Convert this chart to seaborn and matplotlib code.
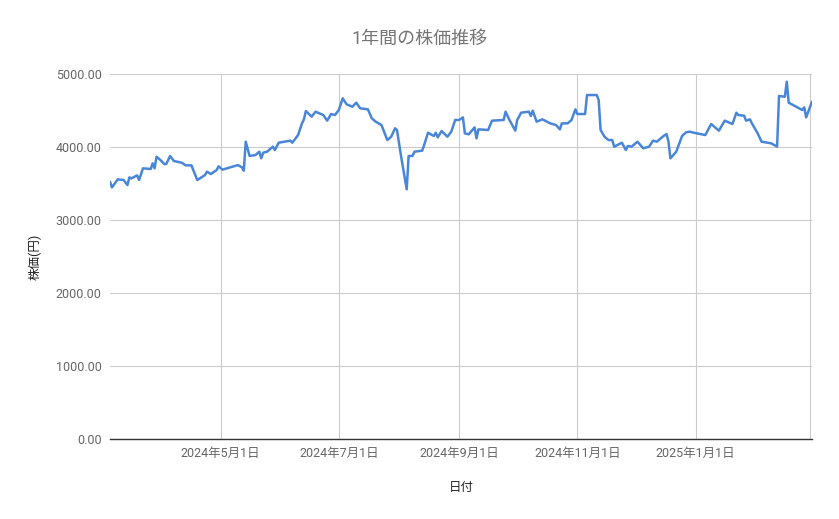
import pandas as pd
import seaborn as sns
import matplotlib.pyplot as plt
from matplotlib.ticker import FuncFormatter

# 日付と終値（チャートから読み取り）
dates = [
    "2024-03-05", "2024-03-06", "2024-03-09", "2024-03-12", "2024-03-14", "2024-03-15",
    "2024-03-16", "2024-03-19", "2024-03-20", "2024-03-22", "2024-03-26", "2024-03-27",
    "2024-03-28", "2024-03-29", "2024-03-31", "2024-04-02", "2024-04-03", "2024-04-05",
    "2024-04-07", "2024-04-11", "2024-04-13", "2024-04-16", "2024-04-18", "2024-04-19",
    "2024-04-23", "2024-04-24", "2024-04-26", "2024-04-29", "2024-04-30", "2024-05-02",
    "2024-05-07", "2024-05-10", "2024-05-12", "2024-05-13", "2024-05-14", "2024-05-16",
    "2024-05-19", "2024-05-21", "2024-05-22", "2024-05-23", "2024-05-25", "2024-05-28",
    "2024-05-29", "2024-05-31", "2024-06-06", "2024-06-07", "2024-06-10", "2024-06-12",
    "2024-06-13", "2024-06-14", "2024-06-17", "2024-06-19", "2024-06-23", "2024-06-25",
    "2024-06-27", "2024-06-29", "2024-07-01", "2024-07-03", "2024-07-05", "2024-07-08",
    "2024-07-10", "2024-07-12", "2024-07-16", "2024-07-18", "2024-07-20", "2024-07-23",
    "2024-07-24", "2024-07-26", "2024-07-28", "2024-07-30", "2024-07-31", "2024-08-02",
    "2024-08-05", "2024-08-06", "2024-08-08", "2024-08-09", "2024-08-13", "2024-08-14",
    "2024-08-16", "2024-08-19", "2024-08-20", "2024-08-21", "2024-08-23", "2024-08-26",
    "2024-08-28", "2024-08-30", "2024-09-01", "2024-09-03", "2024-09-04", "2024-09-06",
    "2024-09-09", "2024-09-10", "2024-09-11", "2024-09-16", "2024-09-18", "2024-09-24",
    "2024-09-25", "2024-09-27", "2024-09-30", "2024-10-01", "2024-10-03", "2024-10-07",
    "2024-10-08", "2024-10-09", "2024-10-11", "2024-10-14", "2024-10-18", "2024-10-21",
    "2024-10-23", "2024-10-24", "2024-10-27", "2024-10-29", "2024-10-31", "2024-11-01",
    "2024-11-05", "2024-11-06", "2024-11-11", "2024-11-12", "2024-11-13", "2024-11-15",
    "2024-11-17", "2024-11-19", "2024-11-20", "2024-11-24", "2024-11-26", "2024-11-27",
    "2024-11-29", "2024-12-02", "2024-12-05", "2024-12-08", "2024-12-10", "2024-12-12",
    "2024-12-15", "2024-12-17", "2024-12-18", "2024-12-19", "2024-12-22", "2024-12-25",
    "2024-12-27", "2024-12-29", "2024-12-31", "2025-01-06", "2025-01-09", "2025-01-13",
    "2025-01-16", "2025-01-20", "2025-01-22", "2025-01-23", "2025-01-26", "2025-01-27",
    "2025-01-29", "2025-01-30", "2025-02-02", "2025-02-04", "2025-02-09", "2025-02-12",
    "2025-02-13", "2025-02-16", "2025-02-17", "2025-02-18", "2025-02-25", "2025-02-26",
    "2025-02-27", "2025-03-02",
]
prices = [
    3525, 3447, 3557, 3548, 3479, 3584,
    3570, 3611, 3548, 3708, 3699, 3776,
    3708, 3867, 3822, 3767, 3767, 3877,
    3808, 3785, 3749, 3749, 3616, 3548,
    3616, 3662, 3630, 3685, 3735, 3690,
    3730, 3753, 3722, 3676, 4073, 3877,
    3890, 3936, 3845, 3922, 3936, 4005,
    3959, 4059, 4087, 4059, 4164, 4324,
    4379, 4493, 4415, 4484, 4438, 4361,
    4452, 4438, 4507, 4667, 4585, 4552,
    4607, 4530, 4516, 4393, 4347, 4301,
    4233, 4096, 4141, 4256, 4233, 3890,
    3420, 3877, 3877, 3936, 3950, 4027,
    4196, 4151, 4196, 4132, 4219, 4141,
    4210, 4370, 4370, 4406, 4187, 4174,
    4269, 4119, 4242, 4233, 4361, 4370,
    4484, 4370, 4224, 4370, 4470, 4484,
    4425, 4498, 4347, 4379, 4324, 4301,
    4242, 4324, 4324, 4370, 4516, 4452,
    4452, 4712, 4712, 4644, 4233, 4141,
    4096, 4096, 4005, 4059, 3959, 4014,
    4005, 4073, 3982, 4005, 4087, 4073,
    4141, 4178, 4073, 3845, 3936, 4151,
    4201, 4210, 4196, 4164, 4315, 4224,
    4361, 4315, 4470, 4438, 4429, 4361,
    4379, 4324, 4187, 4073, 4050, 4005,
    4699, 4689, 4895, 4607, 4507, 4543,
    4406, 4621,
]
tick_dates = ["2024-05-01", "2024-07-01", "2024-09-01", "2024-11-01", "2025-01-01", "2025-03-01"]
tick_labels = ["2024年5月1日", "2024年7月1日", "2024年9月1日", "2024年11月1日", "2025年1月1日", ""]
y_ticks = [0, 1000, 2000, 3000, 4000, 5000]

df = pd.DataFrame({"日付": pd.to_datetime(dates), "株価": prices})

sns.set_theme(style="white")
plt.rcParams['font.family'] = ['Roboto', 'Noto Sans CJK JP', 'DejaVu Sans']

fig = plt.figure(figsize=(8.39, 5.19), dpi=100)
ax = fig.add_axes([0.1311, 0.1541, 0.8367, 0.7033])

sns.lineplot(data=df, x="日付", y="株価", ax=ax, color="#4a86d8", linewidth=1.8)

ax.set_xlim(df["日付"].min(), df["日付"].max())
ax.set_ylim(0, 5000)
ax.set_yticks(y_ticks)
ax.yaxis.set_major_formatter(FuncFormatter(lambda v, p: f"{v:.2f}"))
ax.set_xticks(pd.to_datetime(tick_dates))
ax.set_xticklabels(tick_labels)

ax.grid(True, color="#cccccc", linewidth=0.8)
ax.tick_params(length=0, labelsize=9, colors="#666666", pad=6)
ax.tick_params(axis="x", pad=6)
for s in ["top", "right", "left"]:
    ax.spines[s].set_visible(False)
ax.spines["bottom"].set_color("#333333")
ax.spines["bottom"].set_linewidth(1.0)

ax.set_xlabel("日付", fontsize=9, color="#222222", labelpad=15)
ax.set_ylabel("株価(円)", fontsize=9, color="#222222", labelpad=10)
fig.text(0.5, 0.925, "1年間の株価推移", ha="center", va="center",
         fontsize=13, color="#757575")

fig.savefig("out.png", dpi=100)
